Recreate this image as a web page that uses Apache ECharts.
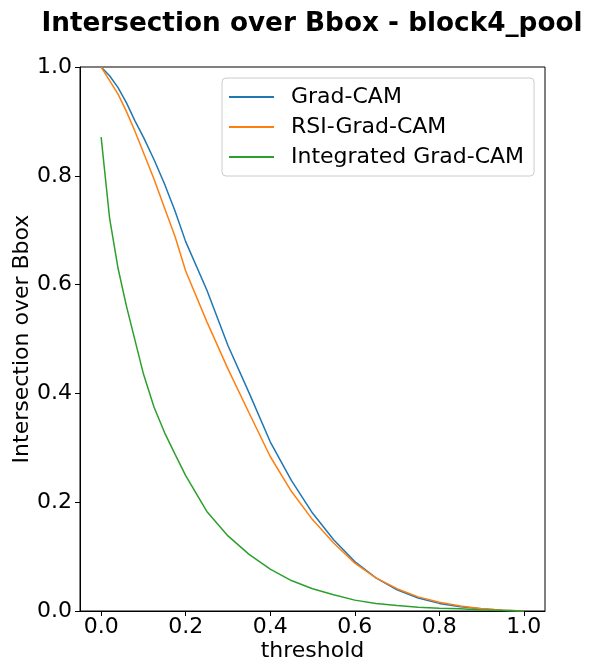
<!DOCTYPE html>
<html>
<head>
<meta charset="utf-8">
<script src="https://cdn.jsdelivr.net/npm/echarts@6/dist/echarts.min.js"></script>
<style>
  html, body { margin: 0; padding: 0; background: #fff; }
  #chart { width: 606px; height: 670px; }
</style>
</head>
<body>
<div id="chart"></div>
<script>
// thresholds
var thresholds = [0, 0.02, 0.04, 0.06, 0.08, 0.1, 0.125, 0.15, 0.175, 0.2, 0.25, 0.3, 0.35,
    0.4, 0.45, 0.5, 0.55, 0.6, 0.65, 0.7, 0.75, 0.8, 0.85, 0.9, 0.95, 1.0];
var gradCam = [1.0, 0.984, 0.962, 0.934, 0.901, 0.871, 0.830, 0.785, 0.735, 0.679, 0.590, 0.488, 0.401,
    0.311, 0.240, 0.180, 0.131, 0.091, 0.061, 0.039, 0.024, 0.014, 0.008, 0.004, 0.0015, 0];
var rsiGradCam = [1.0, 0.975, 0.950, 0.918, 0.882, 0.843, 0.794, 0.741, 0.688, 0.625, 0.532, 0.445, 0.364,
    0.284, 0.220, 0.168, 0.125, 0.088, 0.061, 0.041, 0.026, 0.016, 0.009, 0.004, 0.0015, 0];
var integratedGradCam = [0.871, 0.722, 0.630, 0.560, 0.498, 0.436, 0.375, 0.328, 0.288, 0.249, 0.183, 0.138, 0.104,
    0.077, 0.056, 0.041, 0.030, 0.020, 0.014, 0.010, 0.007, 0.005, 0.004, 0.002, 0.001, 0];
var xTicks = [0, 0.2, 0.4, 0.6, 0.8, 1.0];
var seriesNames = ['Grad-CAM', 'RSI-Grad-CAM', 'Integrated Grad-CAM'];

function pairs(ys) {
    return thresholds.map(function (t, i) { return [t, ys[i]]; });
}

var FONT = 'DejaVu Sans';
var chart = echarts.init(document.getElementById('chart'), null, { renderer: 'canvas' });

function lineSeries(name, ys, color) {
    return {
        name: name,
        type: 'line',
        data: pairs(ys),
        symbol: 'none',
        smooth: false,
        lineStyle: { color: color, width: 1.5 },
        itemStyle: { color: color },
        animation: false
    };
}

option = {
    animation: false,
    textStyle: { fontFamily: FONT },
    title: {
        text: 'Intersection over Bbox - block4_pool',
        left: 307, top: 6, textAlign: 'center',
        textStyle: { fontFamily: FONT, fontSize: 26.3, fontWeight: 'bold', color: '#000' }
    },
    grid: {
        left: 80, right: 61, top: 67, bottom: 59,
        outerBoundsMode: 'none', containLabel: false,
        show: true, borderColor: '#000', borderWidth: 1, backgroundColor: '#fff'
    },
    legend: {
        data: seriesNames,
        left: 222, top: 78,
        orient: 'vertical',
        icon: 'rect',
        itemWidth: 45, itemHeight: 2, itemGap: 8,
        padding: [8, 10, 8, 7],
        borderColor: '#ccc', borderWidth: 1, borderRadius: 4,
        backgroundColor: 'rgba(255,255,255,0.8)',
        textStyle: { fontFamily: FONT, fontSize: 22, color: '#000', padding: [0, 0, 0, 12], lineHeight: 22 }
    },
    xAxis: {
        type: 'value',
        min: -0.05, max: 1.05,
        name: 'threshold',
        nameLocation: 'middle', nameGap: 29, nameMoveOverlap: false,
        nameTextStyle: { fontFamily: FONT, fontSize: 22, color: '#000' },
        axisLine: { show: true, onZero: false, lineStyle: { color: '#000', width: 1 } },
        axisTick: { show: true, length: 5, lineStyle: { color: '#000' }, customValues: xTicks },
        axisLabel: {
            fontFamily: FONT, fontSize: 22, color: '#000', margin: 5,
            customValues: xTicks,
            formatter: function (v) { return v.toFixed(1); }
        },
        splitLine: { show: false }
    },
    yAxis: {
        type: 'value',
        min: 0, max: 1, interval: 0.2,
        name: 'Intersection over Bbox',
        nameLocation: 'middle', nameGap: 47, nameMoveOverlap: false,
        nameTextStyle: { fontFamily: FONT, fontSize: 22, color: '#000' },
        axisLine: { show: true, onZero: false, lineStyle: { color: '#000', width: 1 } },
        axisTick: { show: true, length: 5, lineStyle: { color: '#000' } },
        axisLabel: {
            fontFamily: FONT, fontSize: 22, color: '#000', margin: 8,
            formatter: function (v) { return v.toFixed(1); }
        },
        splitLine: { show: false }
    },
    series: [
        lineSeries(seriesNames[0], gradCam, '#1f77b4'),
        lineSeries(seriesNames[1], rsiGradCam, '#ff7f0e'),
        lineSeries(seriesNames[2], integratedGradCam, '#2ca02c')
    ]
};
chart.setOption(option);
</script>
</body>
</html>
